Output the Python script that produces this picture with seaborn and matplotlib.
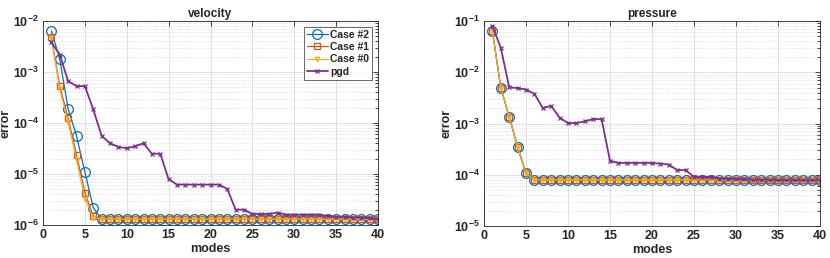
import numpy as np
import pandas as pd
import matplotlib
matplotlib.use("Agg")
import matplotlib.pyplot as plt
import seaborn as sns
from matplotlib.ticker import LogLocator, FuncFormatter, NullFormatter, MultipleLocator

modes = list(range(1, 41))

vel_case2 = [6.4e-3, 1.8e-3, 1.9e-4, 5.6e-5, 1.1e-5, 2.2e-6] + [1.3e-6] * 34
vel_case1 = [4.8e-3, 5.3e-4, 1.25e-4, 2.4e-5, 4.3e-6, 1.5e-6] + [1.3e-6] * 34
vel_case0 = [4.6e-3, 4.6e-4, 1.05e-4, 1.9e-5, 3.3e-6, 1.4e-6] + [1.3e-6] * 34
vel_pgd = [3.8e-3, 2.2e-3, 6.6e-4, 5.3e-4, 5.3e-4, 1.85e-4, 5.6e-5, 4.0e-5, 3.4e-5, 3.2e-5,
           3.5e-5, 4.0e-5, 2.5e-5, 2.5e-5, 7.9e-6, 6.2e-6, 6.2e-6, 6.2e-6, 6.2e-6, 6.2e-6,
           6.2e-6, 5.1e-6, 2.0e-6, 2.0e-6, 1.65e-6, 1.65e-6, 1.65e-6, 1.75e-6, 1.6e-6, 1.6e-6,
           1.6e-6, 1.6e-6, 1.6e-6, 1.5e-6, 1.45e-6, 1.45e-6, 1.4e-6, 1.4e-6, 1.35e-6, 1.3e-6]

pre_case2 = [6.4e-2, 5.0e-3, 1.35e-3, 3.5e-4, 1.07e-4] + [7.9e-5] * 35
pre_case1 = [6.4e-2, 5.0e-3, 1.35e-3, 3.5e-4, 1.07e-4] + [7.9e-5] * 35
pre_case0 = [6.4e-2, 5.0e-3, 1.35e-3, 3.5e-4, 1.07e-4] + [7.9e-5] * 35
pre_pgd = [8.0e-2, 3.0e-2, 5.1e-3, 4.9e-3, 4.6e-3, 3.8e-3, 2.0e-3, 2.2e-3, 1.3e-3, 1.02e-3,
           1.02e-3, 1.1e-3, 1.22e-3, 1.22e-3, 1.87e-4, 1.7e-4, 1.7e-4, 1.7e-4, 1.7e-4, 1.7e-4,
           1.65e-4, 1.58e-4, 1.23e-4, 1.23e-4, 9.1e-5, 9.1e-5, 9.1e-5, 8.4e-5, 8.3e-5, 8.2e-5,
           8.1e-5, 8.0e-5, 8.0e-5, 8.0e-5, 7.9e-5, 7.9e-5, 7.9e-5, 7.9e-5, 7.9e-5, 7.9e-5]

labels = ["Case #2", "Case #1", "Case #0", "pgd"]
colors = ["#0072BD", "#D95319", "#EDB120", "#7E2F8E"]
markers = ["o", "s", "v", "x"]
msizes = [7.0, 4.8, 3.2, 3.2]
lws = [0.9, 0.9, 0.9, 1.3]

sns.set_style("white")
plt.rcParams["font.family"] = ["Liberation Sans", "DejaVu Sans"]
plt.rcParams["font.weight"] = "bold"
plt.rcParams["mathtext.fontset"] = "custom"
plt.rcParams["mathtext.rm"] = "Liberation Sans:bold"
plt.rcParams["mathtext.bf"] = "Liberation Sans:bold"
plt.rcParams["mathtext.it"] = "Liberation Sans:bold"

fig = plt.figure(figsize=(8.3, 2.58), dpi=100)
ax1 = fig.add_axes([43 / 830, 1 - 225 / 258, 335 / 830, 204 / 258])
ax2 = fig.add_axes([484 / 830, 1 - 226 / 258, 336 / 830, 205 / 258])

def draw(ax, series, title, ylim, legend):
    for s, lab, c, m, ms, lw in zip(series, labels, colors, markers, msizes, lws):
        df = pd.DataFrame({"modes": modes, "error": s})
        sns.lineplot(data=df, x="modes", y="error", ax=ax, color=c, marker=m,
                     markersize=ms, markerfacecolor="none", markeredgecolor=c,
                     markeredgewidth=0.9, linewidth=lw, label=lab)
    ax.set_yscale("log")
    ax.set_xlim(0, 40)
    ax.set_ylim(*ylim)
    ax.xaxis.set_major_locator(MultipleLocator(5))
    ax.yaxis.set_major_locator(LogLocator(base=10, numticks=10))
    ax.yaxis.set_minor_locator(LogLocator(base=10, subs=np.arange(2, 10), numticks=20))
    ax.yaxis.set_minor_formatter(NullFormatter())
    ax.yaxis.set_major_formatter(FuncFormatter(
        lambda v, p: r"$\mathbf{10^{%d}}$" % int(round(np.log10(v)))))
    ax.grid(True, which="major", color="#dcdcdc", linewidth=0.6, linestyle="-")
    ax.grid(True, which="minor", axis="y", color="#c8c8c8", linewidth=0.5, linestyle=(0, (1, 2)))
    ax.set_axisbelow(True)
    ax.tick_params(which="both", direction="in", top=True, right=True,
                   labelsize=9, colors="#262626", width=0.6, pad=3)
    ax.tick_params(which="major", length=3.5)
    ax.tick_params(which="minor", length=2)
    for sp in ax.spines.values():
        sp.set_color("#262626")
        sp.set_linewidth(0.6)
    ax.set_title(title, fontsize=8.5, fontweight="bold", pad=3)
    ax.set_xlabel("modes", fontsize=9, fontweight="bold", labelpad=1)
    ax.set_ylabel("error", fontsize=9, fontweight="bold", labelpad=1)
    if legend:
        leg = ax.legend(loc="upper right", fontsize=7.5, frameon=True, fancybox=False,
                        edgecolor="#262626", borderpad=0.3, labelspacing=0.22,
                        handlelength=2.0, handletextpad=0.25, borderaxespad=0.55)
        leg.get_frame().set_linewidth(0.6)
        for t in leg.get_texts():
            t.set_fontweight("bold")
    else:
        l = ax.get_legend()
        if l is not None:
            l.remove()

draw(ax1, [vel_case2, vel_case1, vel_case0, vel_pgd], "velocity", (1e-6, 1e-2), True)
draw(ax2, [pre_case2, pre_case1, pre_case0, pre_pgd], "pressure", (1e-5, 1e-1), False)

fig.savefig("out.png", dpi=100)
